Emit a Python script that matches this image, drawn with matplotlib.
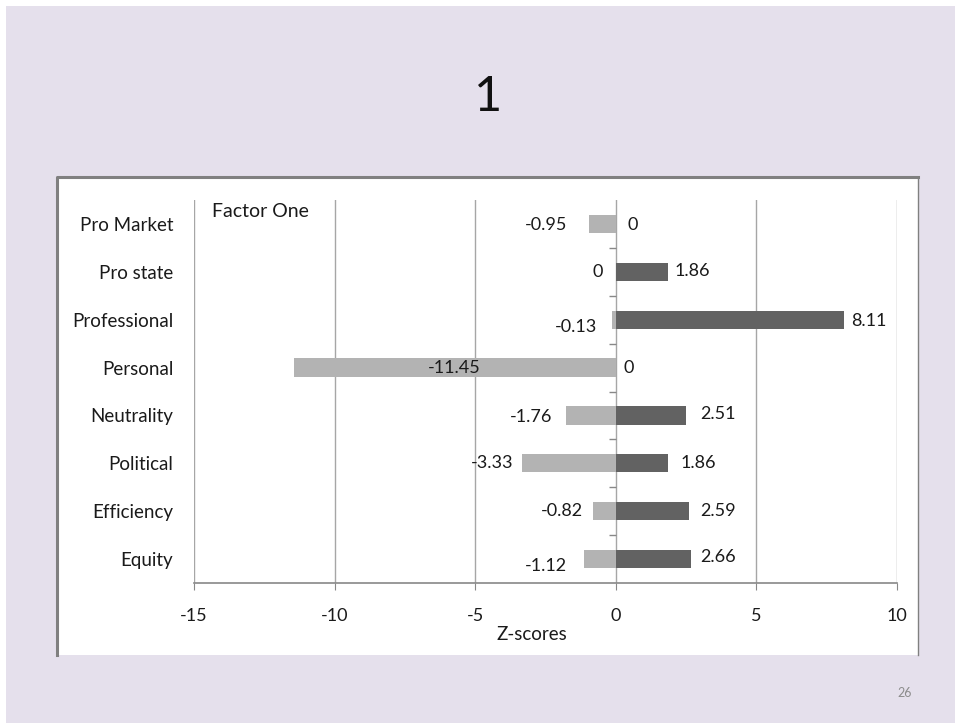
import matplotlib
matplotlib.use("Agg")
import matplotlib.pyplot as plt
from matplotlib.patches import Rectangle
from matplotlib.lines import Line2D

plt.rcParams['font.family'] = ['Lato', 'DejaVu Sans']

categories = ["Pro Market", "Pro state", "Professional", "Personal",
              "Neutrality", "Political", "Efficiency", "Equity"]
neg_vals = [-0.95, 0, -0.13, -11.45, -1.76, -3.33, -0.82, -1.12]
pos_vals = [0, 1.86, 8.11, 0, 2.51, 1.86, 2.59, 2.66]
neg_labels = ["-0.95", "0", "-0.13", "-11.45", "-1.76", "-3.33", "-0.82", "-1.12"]
pos_labels = ["0", "1.86", "8.11", "0", "2.51", "1.86", "2.59", "2.66"]
xticks = [-15, -10, -5, 0, 5, 10]

# label offsets in pixels (manual placement like the original slide)
neg_dx = [-22, -13, -15, -13, -14, -9, -10, -17]
neg_dy = [-1, 0, -7, 0, -2, 0, 0, -7]
pos_dx = [12, 6, 7, 8, 14, 12, 12, 10]
pos_dy = [-1, 1, -1, 0, 1, 0, 0, 2]

light = "#b3b3b3"
dark = "#626262"
grid_c = "#a6a6a6"
txt = "#1a1a1a"

fig = plt.figure(figsize=(9.55, 7.23), dpi=100)
fig.patch.set_facecolor("white")

# slide background
fig.patches.append(Rectangle((6 / 955, 0), 1, 1 - 6 / 723, transform=fig.transFigure,
                             facecolor="#e5e0ec", edgecolor="none", zorder=0))
# chart box
bx0, bx1 = 57 / 955, 918 / 955
by0, by1 = 1 - 655 / 723, 1 - 177 / 723
fig.patches.append(Rectangle((bx0, by0), bx1 - bx0, by1 - by0, transform=fig.transFigure,
                             facecolor="white", edgecolor="none", zorder=1))
fig.lines.append(Line2D([bx0, bx0, bx1], [by0, by1, by1], transform=fig.transFigure,
                        color="#808080", lw=2.2, zorder=2))
fig.lines.append(Line2D([bx1, bx1], [by0, by1], transform=fig.transFigure,
                        color="#808080", lw=1.0, zorder=2))

fig.text(488 / 955, 1 - 97 / 723, "1", fontsize=35, ha="center", va="center", color="#111111")
fig.text(905 / 955, 1 - 693 / 723, "26", fontsize=9, ha="center", va="center", color="#8c8c8c")

ax = fig.add_axes([194 / 955, 1 - 583 / 723, 703 / 955, 383 / 723])
ax.set_facecolor("none")
ax.set_zorder(3)

y = list(range(len(categories)))
ax.barh(y, neg_vals, height=0.38, color=light, zorder=2)
ax.barh(y, pos_vals, height=0.38, color=dark, zorder=2)

ax.set_xlim(-15, 10)
ax.set_ylim(len(categories) - 0.5, -0.5)
ax.set_xticks(xticks)
ax.set_xticklabels([str(t) for t in xticks], fontsize=13, color=txt)
ax.set_yticks(y)
ax.set_yticklabels(categories, fontsize=13.5, color=txt)
ax.tick_params(axis="y", length=0, pad=15)
ax.tick_params(axis="x", length=5, color="#888888", pad=13, direction="out")

for t in xticks:
    ax.axvline(t, color=grid_c, lw=1.0, zorder=1)
# small ticks on the vertical axis between categories
ax.hlines([k + 0.5 for k in range(len(categories) - 1)], -0.25, 0, color="#888888", lw=1.0, zorder=1)

for s in ["top", "right", "left"]:
    ax.spines[s].set_visible(False)
ax.spines["bottom"].set_color("#888888")
ax.spines["bottom"].set_linewidth(1.2)

for i in y:
    if neg_labels[i] == "-11.45":
        ax.annotate(neg_labels[i], (0, i), xytext=(-135 * 0.72, 0), textcoords="offset points",
                    ha="right", va="center", fontsize=13, color=txt)
    else:
        ax.annotate(neg_labels[i], (neg_vals[i], i), xytext=(neg_dx[i] * 0.72, neg_dy[i] * 0.72),
                    textcoords="offset points", ha="right", va="center", fontsize=13, color=txt)
    ax.annotate(pos_labels[i], (pos_vals[i], i), xytext=(pos_dx[i] * 0.72, pos_dy[i] * 0.72),
                textcoords="offset points", ha="left", va="center", fontsize=13, color=txt)

ax.text(-14.37, -0.27, "Factor One", fontsize=14, ha="left", va="center", color=txt)
ax.set_xlabel("Z-scores", fontsize=13.5, color=txt)
ax.xaxis.set_label_coords((532 - 194) / 703, -(626 - 583) / 383)

fig.savefig("out.png", dpi=100)
